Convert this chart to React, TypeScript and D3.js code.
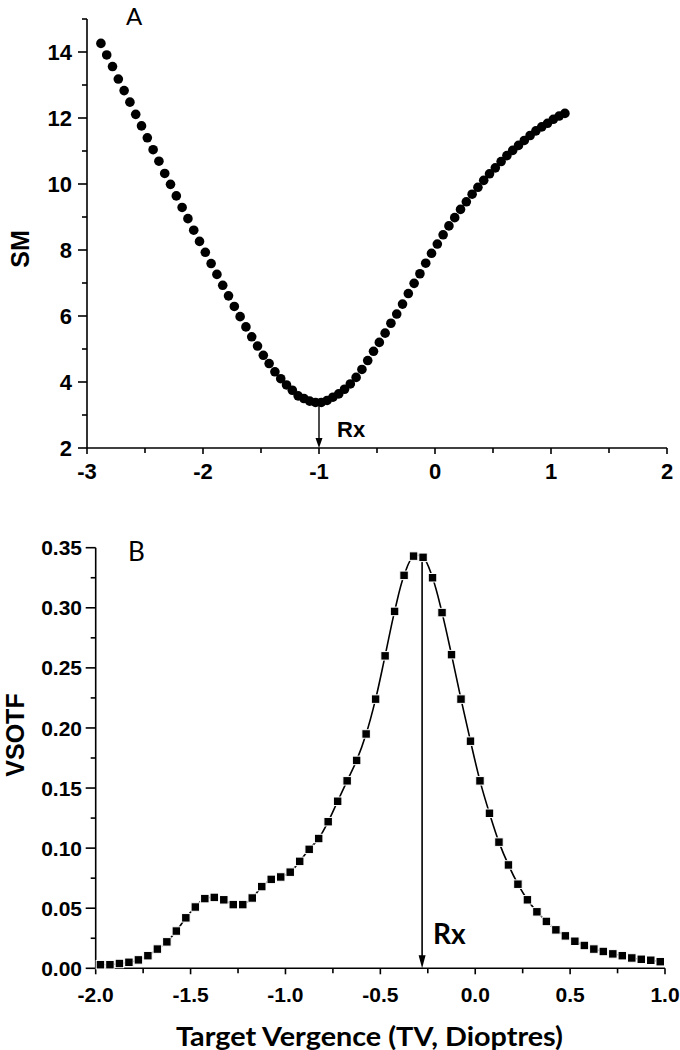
import { scaleLinear, line, curveCatmullRom } from 'd3'

// panel A: SM against target vergence
const smX = [
  -2.88, -2.83, -2.78, -2.73, -2.68, -2.63, -2.58, -2.53, -2.48, -2.43,
  -2.38, -2.33, -2.28, -2.23, -2.18, -2.13, -2.08, -2.03, -1.98, -1.93,
  -1.88, -1.83, -1.78, -1.73, -1.68, -1.63, -1.58, -1.53, -1.48, -1.43,
  -1.38, -1.33, -1.28, -1.23, -1.18, -1.13, -1.08, -1.03, -0.98, -0.93,
  -0.88, -0.83, -0.78, -0.73, -0.68, -0.63, -0.58, -0.53, -0.48, -0.43,
  -0.38, -0.33, -0.28, -0.23, -0.18, -0.13, -0.08, -0.03, 0.02, 0.07,
  0.12, 0.17, 0.22, 0.27, 0.32, 0.37, 0.42, 0.47, 0.52, 0.57,
  0.62, 0.67, 0.72, 0.77, 0.82, 0.87, 0.92, 0.97, 1.02, 1.07,
  1.12,
]
const smY = [
  14.26, 13.91, 13.56, 13.18, 12.83, 12.48, 12.11, 11.76, 11.4, 11.04,
  10.69, 10.32, 9.99, 9.64, 9.29, 8.95, 8.6, 8.26, 7.93, 7.59,
  7.26, 6.93, 6.61, 6.29, 5.98, 5.67, 5.37, 5.09, 4.81, 4.56,
  4.31, 4.1, 3.91, 3.75, 3.58, 3.5, 3.42, 3.38, 3.38, 3.44,
  3.54, 3.64, 3.78, 3.94, 4.14, 4.38, 4.65, 4.93, 5.2, 5.48,
  5.78, 6.06, 6.36, 6.68, 6.99, 7.28, 7.6, 7.9, 8.18, 8.46,
  8.73, 8.98, 9.23, 9.46, 9.69, 9.9, 10.11, 10.31, 10.49, 10.68,
  10.86, 11.02, 11.17, 11.32, 11.47, 11.61, 11.73, 11.84, 11.96, 12.06,
  12.14,
]
const smYTicks = [2, 4, 6, 8, 10, 12, 14]
const smYMinor = [3, 5, 7, 9, 11, 13, 15]
const smXTicks = [-3, -2, -1, 0, 1, 2]
const smXMinor = [-2.5, -1.5, -0.5, 0.5, 1.5]
const smRx = -1
const smRxTop = 3.38

// panel B: VSOTF against target vergence
const vsX = [
  -1.975, -1.925, -1.875, -1.825, -1.775, -1.725, -1.675, -1.625, -1.575, -1.525,
  -1.475, -1.425, -1.375, -1.325, -1.275, -1.225, -1.175, -1.125, -1.075, -1.025,
  -0.975, -0.925, -0.875, -0.825, -0.775, -0.725, -0.675, -0.625, -0.575, -0.525,
  -0.475, -0.425, -0.375, -0.325, -0.275, -0.225, -0.175, -0.125, -0.075, -0.025,
  0.025, 0.075, 0.125, 0.175, 0.225, 0.275, 0.325, 0.375, 0.425, 0.475,
  0.525, 0.575, 0.625, 0.675, 0.725, 0.775, 0.825, 0.875, 0.925, 0.975,
]
const vsY = [
  0.003, 0.003, 0.004, 0.005, 0.007, 0.0105, 0.016, 0.022, 0.031, 0.042,
  0.051, 0.058, 0.059, 0.057, 0.053, 0.053, 0.0585, 0.068, 0.074, 0.076,
  0.08, 0.089, 0.099, 0.108, 0.122, 0.139, 0.156, 0.173, 0.195, 0.224,
  0.26, 0.297, 0.327, 0.343, 0.342, 0.325, 0.296, 0.261, 0.224, 0.189,
  0.156, 0.129, 0.105, 0.086, 0.07, 0.057, 0.047, 0.039, 0.032, 0.027,
  0.0225, 0.019, 0.016, 0.014, 0.012, 0.0105, 0.0086, 0.0075, 0.0067, 0.0055,
]
const vsYTicks = [0, 0.05, 0.1, 0.15, 0.2, 0.25, 0.3, 0.35]
const vsYMinor = [0.025, 0.075, 0.125, 0.175, 0.225, 0.275, 0.325]
const vsXTicks = [-2, -1.5, -1, -0.5, 0, 0.5, 1]
const vsXMinor = [-1.75, -1.25, -0.75, -0.25, 0.25, 0.75]
const vsRx = -0.28
const vsRxTop = 0.342

const tickFont = "'Liberation Sans', Arial, sans-serif"
const calFont = "Lato, 'Open Sans', sans-serif"

let App = () => {
  let width = 680
  let height = 1050

  // scales for panel A
  let xA = scaleLinear().domain([-3, 2]).range([87, 667])
  let yA = scaleLinear().domain([2, 15]).range([448, 19])

  // scales for panel B
  let xB = scaleLinear().domain([-2, 1]).range([95.7, 665])
  let yB = scaleLinear().domain([0, 0.35]).range([968.3, 547.7])

  let vsPts = vsX.map((x, i) => [x, vsY[i]])
  let vsLine = line()
    .x(d => xB(d[0]))
    .y(d => yB(d[1]))
    .curve(curveCatmullRom)(vsPts)

  let sq = 8.5

  return (
    <svg width={width} height={height} style={{ position: 'absolute', left: 0, top: 0, background: 'white' }}>
      {/* ---------- panel A ---------- */}
      <g stroke='black' strokeWidth={1.6}>
        <line x1={xA(-3)} x2={xA(-3)} y1={yA(15)} y2={yA(2)} />
        <line x1={xA(-3)} x2={xA(2)} y1={yA(2)} y2={yA(2)} />
        {smYTicks.map(t => <line key={t} x1={xA(-3) - 9} x2={xA(-3)} y1={yA(t)} y2={yA(t)} />)}
        {smYMinor.map(t => <line key={t} x1={xA(-3) - 5} x2={xA(-3)} y1={yA(t)} y2={yA(t)} />)}
        {smXTicks.map(t => <line key={t} x1={xA(t)} x2={xA(t)} y1={yA(2)} y2={yA(2) + 6} />)}
        {smXMinor.map(t => <line key={t} x1={xA(t)} x2={xA(t)} y1={yA(2)} y2={yA(2) + 5} />)}
      </g>
      <g fontFamily={tickFont} fontWeight='bold' fontSize={22} fill='black'>
        {smYTicks.map(t => (
          <text key={t} x={72} y={yA(t)} dy='0.36em' textAnchor='end'>{t}</text>
        ))}
        {smXTicks.map(t => (
          <text key={t} x={xA(t)} y={479} textAnchor='middle'>{t}</text>
        ))}
        <text transform='translate(29,249) rotate(-90)' textAnchor='middle' fontSize={25}>SM</text>
        <text x={337} y={437} fontSize={22}>Rx</text>
      </g>
      <text x={126} y={25} fontFamily={calFont} fontSize={24}>A</text>

      {/* Rx arrow A */}
      <line x1={xA(smRx)} x2={xA(smRx)} y1={yA(smRxTop)} y2={yA(2) - 8} stroke='black' strokeWidth={1.4} />
      <path d={`M${xA(smRx) - 3.5},${yA(2) - 10} L${xA(smRx) + 3.5},${yA(2) - 10} L${xA(smRx)},${yA(2)} Z`} fill='black' />

      {smX.map((x, i) => (
        <circle key={i} cx={xA(x)} cy={yA(smY[i])} r={4.8} fill='black' />
      ))}

      {/* ---------- panel B ---------- */}
      <g stroke='black' strokeWidth={1.6}>
        <line x1={xB(-2)} x2={xB(-2)} y1={yB(0.35)} y2={yB(0)} />
        <line x1={xB(-2)} x2={xB(1)} y1={yB(0)} y2={yB(0)} />
        {vsYTicks.map(t => <line key={t} x1={xB(-2) - 10} x2={xB(-2)} y1={yB(t)} y2={yB(t)} />)}
        {vsYMinor.map(t => <line key={t} x1={xB(-2) - 5} x2={xB(-2)} y1={yB(t)} y2={yB(t)} />)}
        {vsXTicks.map(t => <line key={t} x1={xB(t)} x2={xB(t)} y1={yB(0)} y2={yB(0) + 6} />)}
        {vsXMinor.map(t => <line key={t} x1={xB(t)} x2={xB(t)} y1={yB(0)} y2={yB(0) + 5} />)}
      </g>
      <g fontFamily={tickFont} fontWeight='bold' fontSize={21} fill='black'>
        {vsYTicks.map(t => (
          <text key={t} x={82} y={yB(t)} dy='0.36em' textAnchor='end'>{t.toFixed(2)}</text>
        ))}
        {vsXTicks.map(t => (
          <text key={t} x={xB(t)} y={1001.5} textAnchor='middle'>{t.toFixed(1)}</text>
        ))}
        <text transform='translate(24,735) rotate(-90)' textAnchor='middle' fontSize={25}>VSOTF</text>
      </g>
      <text x={128} y={561} fontFamily={calFont} fontSize={26}>B</text>
      <text x={369.5} y={1045.5} textAnchor='middle' fontFamily={calFont} fontWeight='bold' fontSize={27}
        textLength={387} lengthAdjust='spacingAndGlyphs'>Target Vergence (TV, Dioptres)</text>
      <text x={433} y={944} fontFamily={calFont} fontWeight='bold' fontSize={28}>Rx</text>

      {/* Rx arrow B */}
      <line x1={xB(vsRx)} x2={xB(vsRx)} y1={yB(vsRxTop)} y2={yB(0) - 10} stroke='black' strokeWidth={1.6} />
      <path d={`M${xB(vsRx) - 3.5},${yB(0) - 13} L${xB(vsRx) + 3.5},${yB(0) - 13} L${xB(vsRx)},${yB(0)} Z`} fill='black' />

      <path d={vsLine} fill='none' stroke='black' strokeWidth={1.6} />
      {vsX.map((x, i) => (
        <rect key={i} x={xB(x) - sq / 2} y={yB(vsY[i]) - sq / 2} width={sq} height={sq}
          fill='black' stroke='white' strokeWidth={1} />
      ))}
    </svg>
  )
}

export default App
